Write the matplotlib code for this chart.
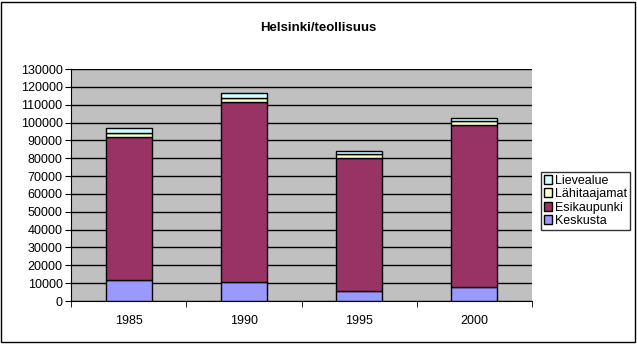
import numpy as np
import matplotlib.pyplot as plt
from matplotlib.patches import Rectangle

plt.rcParams['font.family'] = ['Liberation Sans', 'DejaVu Sans']

years = ["1985", "1990", "1995", "2000"]
keskusta = [11500, 10800, 5800, 7700]
esikaupunki = [80500, 100500, 74200, 90700]
lahitaajamat = [2300, 2600, 2200, 2300]
lievealue = [2800, 2600, 1800, 2000]

series = [("Keskusta", keskusta, "#9999FF"),
          ("Esikaupunki", esikaupunki, "#993366"),
          ("Lähitaajamat", lahitaajamat, "#FFFFCC"),
          ("Lievealue", lievealue, "#CCFFFF")]

fig = plt.figure(figsize=(6.37, 3.47), dpi=100)
ax = fig.add_axes([71/637, 1 - 301/347, 461/637, 232/347])
ax.set_facecolor("#C0C0C0")

x = np.arange(len(years))
bottom = np.zeros(len(years))
handles = []
for name, vals, col in series:
    b = ax.bar(x, vals, width=0.4, bottom=bottom, color=col,
               edgecolor="black", linewidth=1, label=name, zorder=3)
    handles.append(b)
    bottom += np.array(vals)

ax.set_xlim(-0.5, len(years) - 0.5)
ax.set_ylim(0, 130000)
ax.set_yticks(np.arange(0, 130001, 10000))
ax.yaxis.grid(True, color="black", linewidth=1, zorder=1)
ax.set_axisbelow(True)

ax.set_xticks(x)
ax.set_xticklabels(years, fontsize=9)
ax.tick_params(axis="x", length=0, pad=10)
ax.set_xticks(np.arange(-0.5, len(years)), minor=True)
ax.tick_params(axis="x", which="minor", length=4, direction="out", color="black")
ax.tick_params(axis="y", labelsize=9, length=4, direction="out", pad=2)

for side in ["top", "right"]:
    ax.spines[side].set_visible(False)
ax.spines["left"].set_color("black")
ax.spines["bottom"].set_color("black")

fig.text(0.5, 1 - 28/347, "Helsinki/teollisuus", ha="center", va="center",
         fontsize=9.5, fontweight="bold")

leg = fig.legend(handles[::-1], [s[0] for s in series[::-1]],
                 loc="upper left", bbox_to_anchor=(541/637, 1 - 172/347),
                 fontsize=9, frameon=True, fancybox=False, edgecolor="black",
                 borderpad=0.2, labelspacing=0.12, handlelength=0.7,
                 handleheight=0.7, handletextpad=0.25, borderaxespad=0)
leg.get_frame().set_linewidth(1)

fig.patches.append(Rectangle((1/637, 5/347), 634/637, 340/347, transform=fig.transFigure,
                             fill=False, edgecolor="black", linewidth=1))

fig.savefig("out.png", dpi=100)
